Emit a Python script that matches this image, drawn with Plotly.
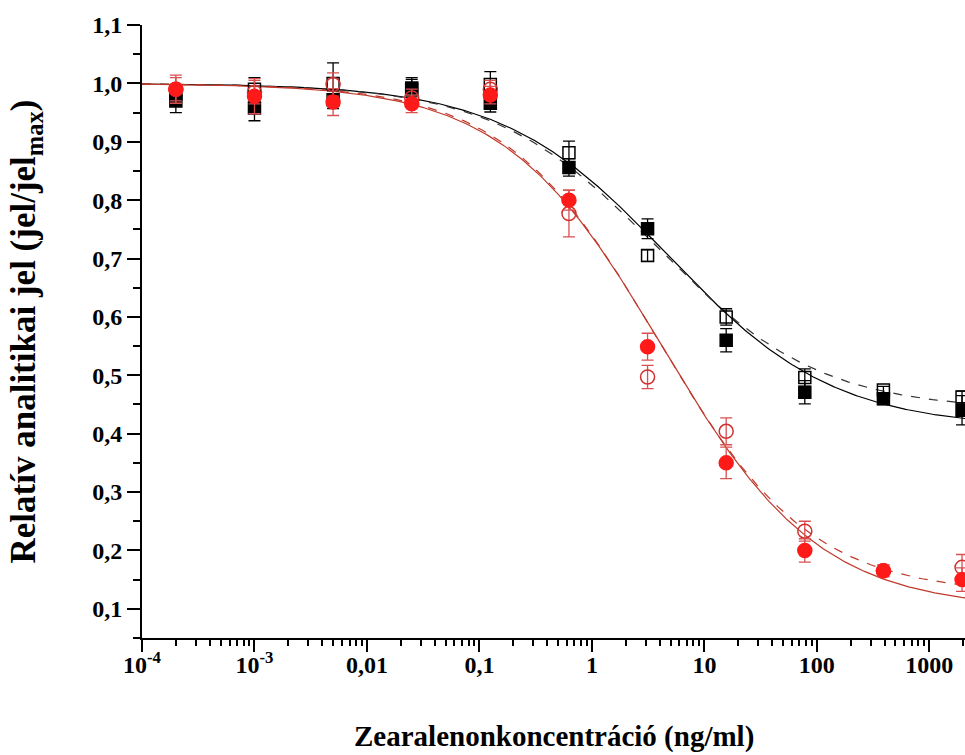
import numpy as np
import plotly.graph_objects as go

# Zearalenone concentrations of the 5-fold dilution series (ng/ml)
conc = [0.0002, 0.001, 0.005, 0.025, 0.125, 0.625, 3.125, 15.625, 78.125, 390.625, 1953.125]

# Relative analytical signal (signal / signal_max) and standard deviations
black_filled = [0.970, 0.958, 0.972, 0.992, 0.966, 0.856, 0.751, 0.560, 0.471, 0.460, 0.440]
black_filled_err = [0.020, 0.022, 0.015, 0.015, 0.015, 0.015, 0.017, 0.020, 0.020, 0.010, 0.025]
black_open = [0.982, 0.990, 1.000, 0.990, 0.998, 0.881, 0.705, 0.600, 0.496, 0.475, 0.463]
black_open_err = [0.010, 0.020, 0.035, 0.020, 0.022, 0.020, 0.010, 0.014, 0.015, 0.006, 0.010]
red_filled = [0.990, 0.978, 0.968, 0.965, 0.980, 0.800, 0.549, 0.350, 0.200, 0.165, 0.150]
red_filled_err = [0.020, 0.030, 0.023, 0.015, 0.015, 0.017, 0.023, 0.027, 0.020, 0.010, 0.020]
red_open = [0.990, 0.985, 0.998, 0.975, 0.990, 0.777, 0.497, 0.404, 0.233, 0.165, 0.171]
red_open_err = [0.024, 0.020, 0.020, 0.015, 0.015, 0.040, 0.020, 0.023, 0.017, 0.010, 0.022]

# Four-parameter logistic fit parameters: (A1, A2, x0, p)
fit_black_solid = (1.0, 0.410, 4.77, 0.59)
fit_black_dashed = (1.0, 0.440, 3.77, 0.60)
fit_red_solid = (1.0, 0.100, 4.20, 0.62)
fit_red_dashed = (1.0, 0.125, 3.83, 0.64)

# Axis tick labels
y_tickvals = [0.1, 0.2, 0.3, 0.4, 0.5, 0.6, 0.7, 0.8, 0.9, 1.0, 1.1]
y_ticktext = ["0,1", "0,2", "0,3", "0,4", "0,5", "0,6", "0,7", "0,8", "0,9", "1,0", "1,1"]
x_tickvals = [1e-4, 1e-3, 1e-2, 1e-1, 1, 10, 100, 1000]
x_ticktext = ["10<sup>-4</sup>", "10<sup>-3</sup>", "0,01", "0,1", "1", "10", "100", "1000"]

FONT = "Liberation Serif"
RED = "#ff1a1a"
RED_LINE = "#c0392b"


def bold(labels):
    return [f"<b>{t}</b>" for t in labels]


def logistic(x, params):
    a1, a2, x0, p = params
    return a2 + (a1 - a2) / (1.0 + (x / x0) ** p)


xfit = np.logspace(-4, np.log10(2100), 400)

fig = go.Figure()

for params, color, dash in [
    (fit_black_solid, "black", "solid"),
    (fit_black_dashed, "#333333", "dash"),
    (fit_red_solid, RED_LINE, "solid"),
    (fit_red_dashed, RED_LINE, "dash"),
]:
    fig.add_trace(go.Scatter(
        x=xfit, y=logistic(xfit, params), mode="lines",
        line=dict(color=color, width=1.2, dash=dash),
        showlegend=False, hoverinfo="skip",
    ))


def add_points(yvals, errs, symbol, fill, edge, size, bar_color):
    fig.add_trace(go.Scatter(
        x=conc, y=yvals, mode="markers",
        marker=dict(symbol=symbol, size=size, color=fill,
                    line=dict(color=edge, width=1.5)),
        error_y=dict(type="data", array=errs, visible=True,
                     color=bar_color, thickness=1.3, width=6),
        showlegend=False,
    ))


add_points(black_open, black_open_err, "square-open", "black", "black", 12, "black")
add_points(black_filled, black_filled_err, "square", "black", "black", 12, "black")
add_points(red_open, red_open_err, "circle-open", "#d03030", "#d03030", 14, "#d85050")
add_points(red_filled, red_filled_err, "circle", RED, RED, 14, "#d85050")

tick_font = dict(family=FONT, size=24, color="black")
axis_common = dict(
    showline=True, linecolor="black", linewidth=2,
    ticks="outside", tickcolor="black", tickwidth=2,
    showgrid=False, zeroline=False,
    tickfont=tick_font,
)

fig.update_xaxes(
    type="log", range=[-4, np.log10(2075)],
    tickmode="array", tickvals=x_tickvals, ticktext=bold(x_ticktext), ticklen=12,
    ticklabelstandoff=-8,
    minor=dict(ticks="outside", ticklen=6, tickwidth=1.5, tickcolor="black",
               dtick="D1", showgrid=False),
    **axis_common,
)
fig.update_yaxes(
    range=[0.05, 1.1],
    tickmode="array", tickvals=y_tickvals, ticktext=bold(y_ticktext), ticklen=13,
    minor=dict(ticks="outside", ticklen=7, tickwidth=2, tickcolor="black",
               dtick=0.05, tick0=0.05, showgrid=False),
    **axis_common,
)

fig.add_annotation(
    text="<b>Zearalenonkoncentráció (ng/ml)</b>", xref="paper", yref="paper",
    x=0.5, y=-0.1615, xanchor="center", yanchor="middle", showarrow=False,
    font=dict(family=FONT, size=29, color="black"),
)
fig.add_annotation(
    text="<b>Relatív analitikai jel (jel/jel<sub>max</sub>)</b>", xref="paper", yref="paper",
    x=-0.141, y=0.5, xanchor="center", yanchor="middle", textangle=-90,
    showarrow=False, font=dict(family=FONT, size=35, color="black"),
)

fig.update_layout(
    width=965, height=755,
    margin=dict(l=142, r=0, t=25, b=117),
    paper_bgcolor="white", plot_bgcolor="white",
    font=dict(family=FONT, color="black"),
)

fig.write_html("out.html")
